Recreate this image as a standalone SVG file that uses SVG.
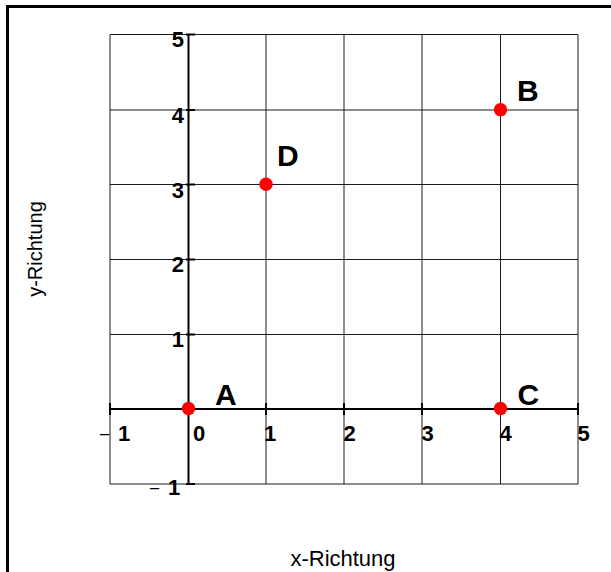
<svg xmlns="http://www.w3.org/2000/svg" width="611" height="572" viewBox="0 0 611 572">
<style>
.grid{stroke:#1a1a1a;stroke-width:1;fill:none}
.axis{stroke:#000;stroke-width:2;fill:none}
.tick{stroke:#000;stroke-width:2}
.num{font-family:"Liberation Sans",Arial,sans-serif;font-weight:bold;font-size:22px;fill:#000}
.minus{font-family:"Liberation Sans",Arial,sans-serif;font-weight:normal;font-size:19px;fill:#000}
.lbl{font-family:"Liberation Sans",Arial,sans-serif;font-weight:bold;font-size:30px;fill:#000}
.title{font-family:"Liberation Sans",Arial,sans-serif;font-size:22px;fill:#000}
.pt{fill:#ff0000}
</style>
<rect x="0" y="0" width="611" height="572" fill="#fff"/>
<path d="M7.5 580 V6.5 H620" stroke="#000" stroke-width="3" fill="none"/>
<g id="grid">
<path class="grid" d="M110 34.5 V484 M266 34.5 V484 M344 34.5 V484 M422 34.5 V484 M500.5 34.5 V484 M578 34.5 V484"/>
<path class="grid" d="M110 34.5 H578 M110 110 H578 M110 184.5 H578 M110 259.5 H578 M110 334.5 H578 M110 484 H578"/>
</g>
<g id="axes">
<path class="axis" d="M110 409 H578 M188.5 34.5 V484"/>
<path class="tick" d="M186 34.5 H195 M186 110 H195 M186 184.5 H195 M186 259.5 H195 M186 334.5 H195 M186 484 H195"/>
<path class="tick" d="M110 403 V415 M266 403 V415 M344 403 V415 M422 403 V415 M500.5 403 V415 M578 403 V415"/>
</g>
<g id="ylabels">
<text class="num" x="184" y="47" text-anchor="end">5</text>
<text class="num" x="184" y="123" text-anchor="end">4</text>
<text class="num" x="184" y="197.5" text-anchor="end">3</text>
<text class="num" x="184" y="272" text-anchor="end">2</text>
<text class="num" x="184" y="347" text-anchor="end">1</text>
<text class="minus" x="149" y="495">−</text>
<text class="num" x="168" y="495">1</text>
</g>
<g id="xlabels">
<text class="minus" x="99" y="441">−</text>
<text class="num" x="118" y="441">1</text>
<text class="num" x="193" y="441">0</text>
<text class="num" x="264" y="441">1</text>
<text class="num" x="343.5" y="441">2</text>
<text class="num" x="421.5" y="441">3</text>
<text class="num" x="499.5" y="441">4</text>
<text class="num" x="577.5" y="441">5</text>
</g>
<g id="A"><circle class="pt" cx="188.5" cy="408.5" r="6.7"/><text class="lbl" x="215" y="405">A</text></g>
<g id="B"><circle class="pt" cx="500.5" cy="109.7" r="6.7"/><text class="lbl" x="517" y="101">B</text></g>
<g id="C"><circle class="pt" cx="500.5" cy="408.5" r="6.7"/><text class="lbl" x="517.5" y="405">C</text></g>
<g id="D"><circle class="pt" cx="266" cy="184.3" r="6.7"/><text class="lbl" x="277" y="165.5">D</text></g>
<g id="titles">
<text class="title" x="343" y="566" text-anchor="middle">x-Richtung</text>
<text class="title" x="41.5" y="249" text-anchor="middle" transform="rotate(-90 41.5 249)" style="font-size:20px">y-Richtung</text>
</g>
</svg>
